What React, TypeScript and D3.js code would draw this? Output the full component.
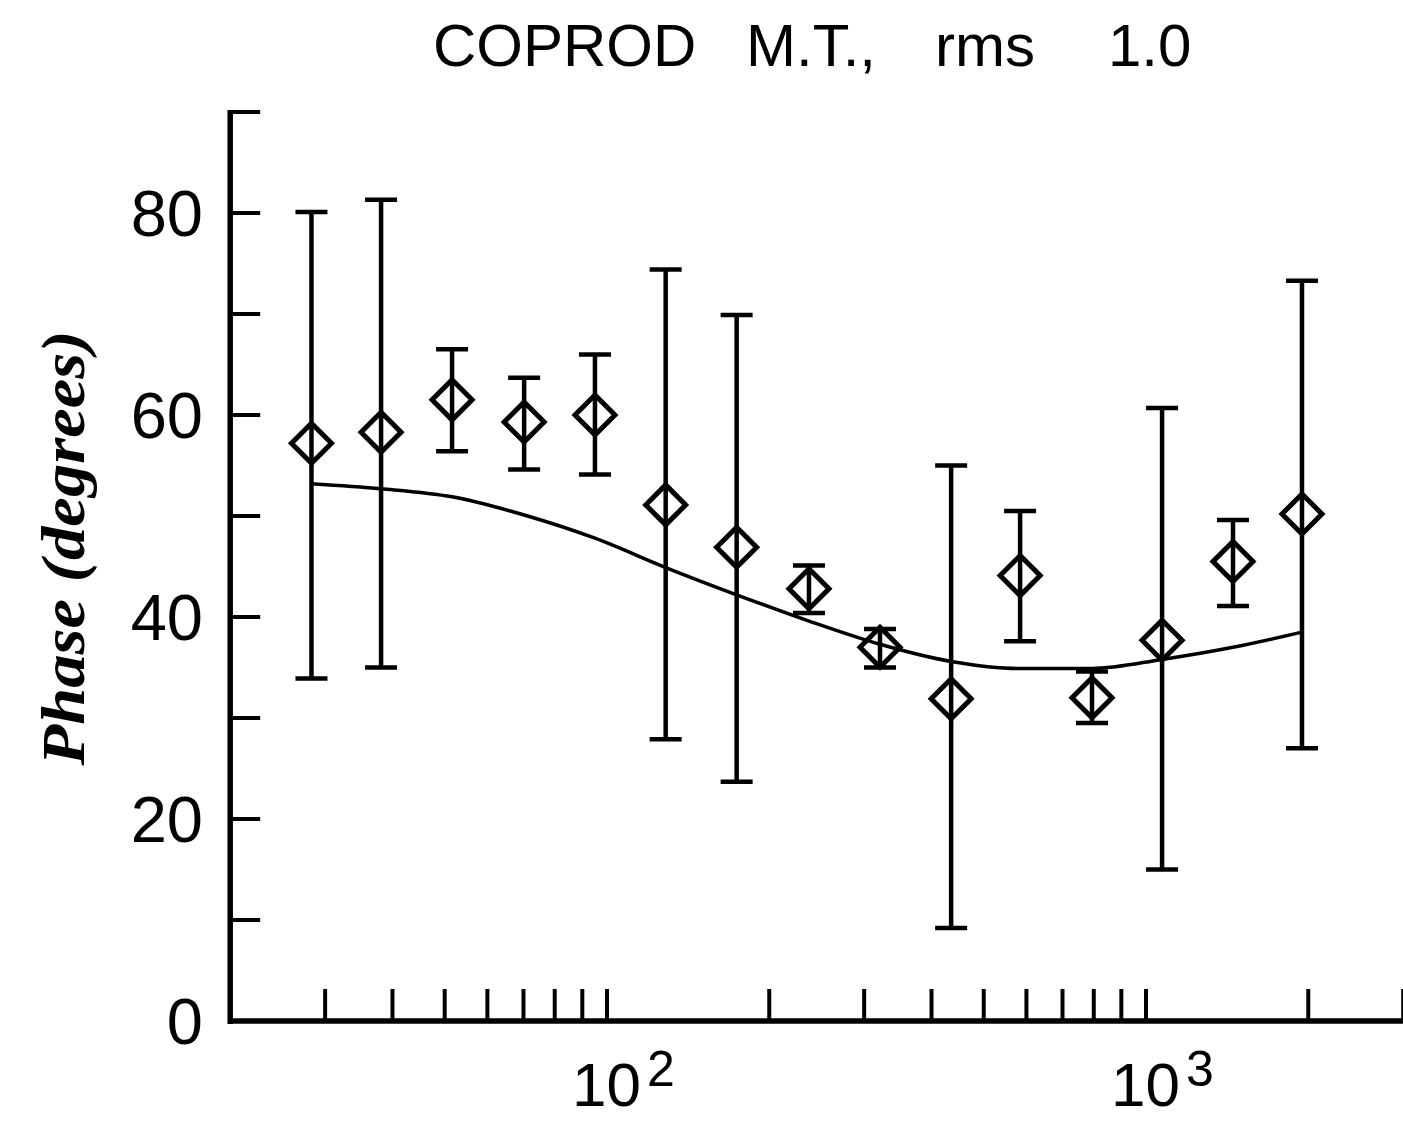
import React from "react";
import * as d3 from "d3";

// ---- data ----
const periods = [28.3, 38.1, 51.6, 70.2, 95, 128.5, 174, 237, 321, 435, 584, 794, 1071, 1450, 1947];
const phase = [57.2, 58.3, 61.5, 59.3, 60.0, 51.1, 46.9, 42.8, 37.0, 31.9, 44.1, 32.0, 37.7, 45.5, 50.2];
const phaseLow = [33.9, 35.0, 56.4, 54.6, 54.1, 27.9, 23.7, 40.4, 35.0, 9.2, 37.6, 29.5, 15.0, 41.1, 27.0];
const phaseHigh = [80.1, 81.3, 66.5, 63.7, 66.0, 74.4, 69.9, 45.1, 38.8, 55.0, 50.5, 34.6, 60.7, 49.6, 73.3];
const modelPhase = [53.2, 52.7, 51.9, 50.1, 47.8, 44.9, 42.2, 39.6, 37.3, 35.6, 34.9, 34.9, 35.8, 37.0, 38.5];

const xTickValues = [30, 40, 50, 60, 70, 80, 90, 100, 200, 300, 400, 500, 600, 700, 800, 900, 1000, 2000, 3000];
const xLabelValues = [100, 1000];
const xLabelExponents = ["2", "3"];
const yTickValues = [0, 10, 20, 30, 40, 50, 60, 70, 80, 90];
const yLabelValues = [0, 20, 40, 60, 80];

const titleWords = ["COPROD", "M.T.,", "rms", "1.0"];
const titleWordX = [433, 746, 935, 1108];
const yAxisTitle = "Phase (degrees)";

export default function App() {
  const W = 1403;
  const H = 1121;
  const x = d3.scaleLog().domain([20, 3000]).range([230.2, 1403.2]);
  const y = d3.scaleLinear().domain([0, 90]).range([1021, 112]);

  const line = d3
    .line<number>()
    .x((_, i) => x(periods[i]))
    .y((d) => y(d))
    .curve(d3.curveMonotoneX);

  const axisX0 = x(20);
  const axisY0 = y(0);
  const tickLen = 30;
  const capHalf = 16;
  const dia = 20;

  const sans = "'Liberation Sans', Arial, Helvetica, sans-serif";
  const serif = "'Liberation Serif', 'Times New Roman', serif";

  return (
    <svg
      width={W}
      height={H}
      viewBox={`0 0 ${W} ${H}`}
      style={{ position: "absolute", left: 0, top: 0, background: "#fff" }}
    >
      <rect x={0} y={0} width={W} height={H} fill="#fff" />
      {/* title */}
      {titleWords.map((w, i) => (
        <text key={"tw" + i} x={titleWordX[i]} y={66} fontFamily={sans} fontSize={60} fill="#000">
          {w}
        </text>
      ))}

      {/* y axis title */}
      <text
        transform={`translate(84, 548) rotate(-90)`}
        textAnchor="middle"
        fontFamily={serif}
        fontStyle="italic"
        fontWeight="bold"
        fontSize={62}
        textLength={435}
        lengthAdjust="spacingAndGlyphs"
        fill="#000"
      >
        {yAxisTitle}
      </text>

      {/* axes */}
      <line x1={axisX0} y1={y(90) - 2} x2={axisX0} y2={axisY0 + 3} stroke="#000" strokeWidth={5.5} />
      <line x1={axisX0 - 2} y1={axisY0} x2={W} y2={axisY0} stroke="#000" strokeWidth={5.5} />

      {yTickValues.map((v) => (
        <line key={"yt" + v} x1={axisX0} x2={axisX0 + tickLen} y1={y(v)} y2={y(v)} stroke="#000" strokeWidth={4} />
      ))}
      {yLabelValues.map((v) => (
        <text
          key={"yl" + v}
          x={203}
          y={y(v) + 23}
          textAnchor="end"
          fontFamily={sans}
          fontSize={65}
          fill="#000"
        >
          {v}
        </text>
      ))}

      {xTickValues.map((v) => (
        <line key={"xt" + v} x1={x(v)} x2={x(v)} y1={axisY0} y2={axisY0 - 32} stroke="#000" strokeWidth={4} />
      ))}
      {xLabelValues.map((v, i) => (
        <text key={"xl" + v} x={x(v) - 35} y={1106} fontFamily={sans} fontSize={62} fill="#000">
          <tspan>10</tspan>
          <tspan dx={6} dy={-20} fontSize={50}>
            {xLabelExponents[i]}
          </tspan>
        </text>
      ))}

      {/* model curve */}
      <path d={line(modelPhase) || ""} fill="none" stroke="#000" strokeWidth={3.5} />

      {/* error bars */}
      {periods.map((p, i) => {
        const cx = x(p);
        return (
          <g key={"eb" + i} stroke="#000" strokeWidth={4.5}>
            <line x1={cx} x2={cx} y1={y(phaseLow[i])} y2={y(phaseHigh[i])} />
            <line x1={cx - capHalf} x2={cx + capHalf} y1={y(phaseLow[i])} y2={y(phaseLow[i])} />
            <line x1={cx - capHalf} x2={cx + capHalf} y1={y(phaseHigh[i])} y2={y(phaseHigh[i])} />
          </g>
        );
      })}

      {/* diamonds */}
      {periods.map((p, i) => {
        const cx = x(p);
        const cy = y(phase[i]);
        return (
          <path
            key={"pt" + i}
            d={`M${cx},${cy - dia}L${cx + dia},${cy}L${cx},${cy + dia}L${cx - dia},${cy}Z`}
            fill="none"
            stroke="#000"
            strokeWidth={5}
          />
        );
      })}
    </svg>
  );
}
